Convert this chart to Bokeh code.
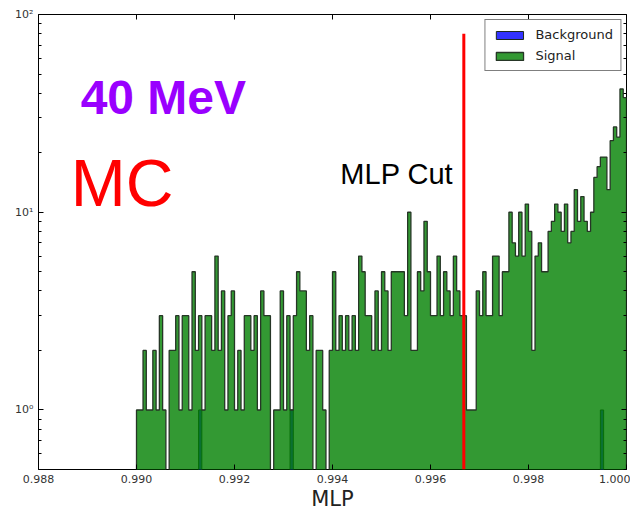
import numpy as np
from bokeh.plotting import figure
from bokeh.models import (FixedTicker, Label, Legend, LegendItem, NumeralTickFormatter,
                          LogAxis, LinearAxis)
from bokeh.embed import file_html
from bokeh.resources import INLINE

# ---------------- data ----------------
bin_lo = 0.990
bin_hi = 1.000
n_bins = 150

signal_counts = [
    1, 1, 2, 1, 1, 2, 1, 3, 1, 0,
    2, 2, 3, 1, 3, 3, 1, 5, 2, 3,
    1, 3, 3, 2, 6, 2, 4, 1, 3, 4,
    1, 2, 1, 3, 3, 2, 3, 1, 4, 3,
    3, 0, 1, 1, 4, 1, 3, 1, 3, 5,
    4, 4, 2, 3, 0, 2, 2, 1, 0, 2,
    5, 2, 3, 2, 3, 2, 3, 2, 6, 5,
    3, 3, 2, 4, 2, 5, 4, 2, 5, 5,
    5, 5, 3, 10, 2, 2, 5, 4, 9, 5,
    3, 3, 6, 3, 5, 4, 3, 6, 4, 3,
    3, 1, 1, 1, 4, 3, 5, 3, 3, 6,
    6, 3, 5, 5, 10, 7, 6, 10, 6, 11,
    8, 2, 6, 7, 5, 5, 8, 9, 11, 10,
    8, 11, 7, 8, 13, 9, 12, 9, 8, 10,
    15, 17, 19, 19, 13, 23, 27, 24, 42, 38,
]
background_bins = [19, 47, 142]
background_counts = [1, 1, 1]

mlp_cut = 0.99668
cut_line_top = 80

x_ticks = [0.988, 0.990, 0.992, 0.994, 0.996, 0.998, 1.000]
y_ticks = [1, 10, 100]
y_tick_labels = {1: "10\u2070", 10: "10\u00b9", 100: "10\u00b2"}
y_minor = [0.5, 0.6, 0.7, 0.8, 0.9] + [d * m for d in (1, 10) for m in range(2, 10)]

# ---------------- helpers ----------------
edges = np.linspace(bin_lo, bin_hi, n_bins + 1)
floor = 1e-3


def stair(counts):
    c = np.asarray(counts, dtype=float)
    c = np.where(c > 0, c, floor)
    xs = np.repeat(edges, 2)
    ys = np.concatenate([[floor], np.repeat(c, 2), [floor]])
    return xs, ys


bg = np.zeros(n_bins)
for b, c in zip(background_bins, background_counts):
    bg[b] = c
bg_xs, bg_ys = stair(bg)
sig_xs, sig_ys = stair(signal_counts)

p = figure(width=630, height=513, x_range=(0.988, 1.000), y_range=(0.5, 100),
           y_axis_type="log", output_backend="svg", toolbar_location=None,
           min_border_left=38, min_border_right=4, min_border_top=14, min_border_bottom=44)
p.background_fill_color = "white"
p.border_fill_color = "white"
p.outline_line_color = "black"
p.outline_line_width = 1
p.xgrid.visible = False
p.ygrid.visible = False

# background histogram (blue) then signal (green) on top, matplotlib "stepfilled" style
r_bg = p.patch(bg_xs, bg_ys, fill_color="blue", fill_alpha=0.8,
               line_color="#1e2a1e", line_width=1)
r_sig = p.patch(sig_xs, sig_ys, fill_color="green", fill_alpha=0.8,
                line_color="#263626", line_width=1.3)

# cut line
p.line([mlp_cut, mlp_cut], [0.5, cut_line_top], line_color="#ff0000", line_width=3)

# legend
legend = Legend(items=[LegendItem(label="Background", renderers=[r_bg]),
                       LegendItem(label="Signal", renderers=[r_sig])],
                location="top_right")
legend.label_text_font = "DejaVu Sans"
legend.label_text_font_size = "13px"
legend.label_text_color = "#222222"
legend.glyph_width = 34
legend.glyph_height = 10
legend.label_standoff = 9
legend.spacing = 6
legend.padding = 7
legend.margin = 5
legend.border_line_color = "black"
legend.border_line_width = 1
legend.background_fill_alpha = 1
p.add_layout(legend)

# axes
xa = p.xaxis[0]
xa.ticker = FixedTicker(ticks=x_ticks)
xa.formatter = NumeralTickFormatter(format="0.000")
xa.axis_label = "MLP"
xa.axis_label_text_font = "DejaVu Sans"
xa.axis_label_text_font_size = "21px"
xa.axis_label_text_font_style = "normal"
xa.axis_label_text_color = "#222222"
xa.axis_label_standoff = 1
xa.major_label_standoff = 5
xa.major_label_text_font = "DejaVu Sans"
xa.major_label_text_font_size = "11px"
xa.major_label_text_color = "#333333"
xa.major_tick_in = 5
xa.major_tick_out = 0
xa.minor_tick_in = 0
xa.minor_tick_out = 0
xa.axis_line_color = None

ya = p.yaxis[0]
ya.ticker = FixedTicker(ticks=y_ticks, minor_ticks=y_minor)
ya.major_label_overrides = y_tick_labels
ya.major_label_text_font = "DejaVu Sans"
ya.major_label_text_font_size = "11px"
ya.major_label_text_color = "#333333"
ya.major_label_standoff = 5
ya.major_tick_in = 5
ya.major_tick_out = 0
ya.minor_tick_in = 3
ya.minor_tick_out = 0
ya.axis_line_color = None

top_axis = LinearAxis(ticker=FixedTicker(ticks=x_ticks),
                      major_label_overrides={t: "" for t in x_ticks},
                      major_label_standoff=0, major_tick_in=5, major_tick_out=0,
                      minor_tick_in=0, minor_tick_out=0, axis_line_color=None)
p.add_layout(top_axis, "above")
right_axis = LogAxis(ticker=FixedTicker(ticks=y_ticks, minor_ticks=y_minor),
                     major_label_overrides={t: "" for t in y_ticks},
                     major_label_standoff=0,
                     major_tick_in=5, major_tick_out=0, minor_tick_in=3, minor_tick_out=0,
                     axis_line_color=None)
p.add_layout(right_axis, "right")

# annotations (y = vertical centre of the capitals)
p.add_layout(Label(x=0.98886, y=37.9, text="40 MeV", text_font="Liberation Sans",
                   text_font_size="48px", text_font_style="bold", text_color="#9900ff",
                   text_baseline="middle"))
p.add_layout(Label(x=0.98866, y=14.0, text="MC", text_font="Liberation Sans",
                   text_font_size="66px", text_color="#ff0000", text_baseline="middle"))
p.add_layout(Label(x=0.99416, y=15.7, text="MLP Cut", text_font="Liberation Sans",
                   text_font_size="29px", text_color="black", text_baseline="middle"))

open("out.html", "w").write(file_html(p, INLINE))
